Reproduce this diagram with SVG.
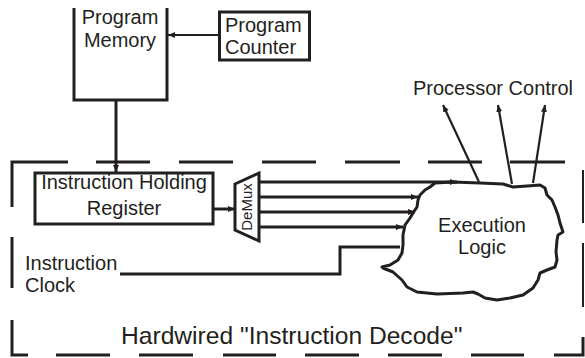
<svg xmlns="http://www.w3.org/2000/svg" width="585" height="358" viewBox="0 0 585 358">
<style>
  text { font-family: "Liberation Sans", Arial, sans-serif; font-size: 20px; fill: #231f20; }
  .box { fill: #fff; stroke: #231f20; stroke-width: 3; }
  .open { fill: none; stroke: #231f20; stroke-width: 3; }
  .wire { fill: none; stroke: #231f20; stroke-width: 3; }
  .thin { fill: none; stroke: #231f20; stroke-width: 2.2; }
  .dash { fill: none; stroke: #231f20; stroke-width: 3; }
  .dashr { fill: none; stroke: #231f20; stroke-width: 2; }
  .cloud { fill: #fff; stroke: #231f20; stroke-width: 3; stroke-linejoin: round; }
</style>
<defs>
  <marker id="ah" markerUnits="userSpaceOnUse" markerWidth="8" markerHeight="8" viewBox="0 0 8 8" refX="7" refY="4" orient="auto">
    <path d="M0,1 L7,4 L0,7 Z" fill="#231f20"/>
  </marker>
</defs>
<rect width="585" height="358" fill="#fff"/>

<g id="boundary">
  <path class="dash" d="M12,207 V162 H68 M96,162 H150 M179,162 H233 M262,162 H316 M345,162 H400 M428,162 H482 M510,162 H565"/>
  <path class="dash" d="M12,237 V288 M12,320 V355 H28 M56,355 H110 M139,355 H193 M223,355 H276 M305,355 H359 M388,355 H442 M471,355 H524 M554,355 H583 V337"/>
  <path class="dashr" d="M583,170 V223 M583,243 V307"/>
  <text x="121" y="344" style="font-size:24.6px">Hardwired "Instruction Decode"</text>
</g>

<g id="program-memory">
  <path class="open" d="M74,8 V100 H167 V8"/>
  <text x="120" y="24" text-anchor="middle">Program</text>
  <text x="120" y="47" text-anchor="middle">Memory</text>
</g>

<g id="program-counter">
  <rect class="box" x="219.5" y="12" width="90" height="48"/>
  <text x="225" y="32">Program</text>
  <text x="225" y="54">Counter</text>
</g>

<g id="instruction-holding-register">
  <rect class="box" x="35" y="173" width="178" height="51"/>
  <text x="124" y="189" text-anchor="middle">Instruction Holding</text>
  <text x="124" y="215" text-anchor="middle">Register</text>
</g>

<g id="demux">
  <path class="box" d="M235,184 L259,173 L259,241 L235,230 Z"/>
  <text transform="translate(247,207) rotate(-90)" x="0" y="5" text-anchor="middle" style="font-size:15px">DeMux</text>
</g>

<g id="execution-logic">
  <path class="cloud" d="M430,187 L435,183 L453,182 L480,183 L503,184 L513,187 L527,186 L540,185 L545,188 L547,195 L552,200 L555,207 L558,215 L560,223 L563,232 L558,235 L557,240 L556,252 L557,260 L555,267 L547,270 L540,273 L538,280 L533,288 L523,295 L510,298 L497,300 L485,298 L478,294 L473,292 L463,293 L437,294 L417,292 L407,287 L402,280 L393,272 L383,268 L382,267 L390,265 L398,260 L402,253 L403,245 L403,235 L405,225 L410,218 L413,213 L417,207 L418,200 L420,195 L425,190 Z"/>
  <text x="482" y="232" text-anchor="middle">Execution</text>
  <text x="482" y="254" text-anchor="middle">Logic</text>
</g>

<g id="instruction-clock">
  <text x="25" y="270">Instruction</text>
  <text x="25" y="292">Clock</text>
</g>

<g id="processor-control">
  <text x="413" y="95">Processor Control</text>
</g>

<g id="connectors">
  <path class="thin" d="M219,35 H168" marker-end="url(#ah)"/>
  <path class="wire" d="M116,101 V172" marker-end="url(#ah)"/>
  <path class="wire" d="M213,209 H235" marker-end="url(#ah)"/>
  <path class="wire" d="M259,182 H457" marker-end="url(#ah)"/>
  <path class="wire" d="M259,197 H418" marker-end="url(#ah)"/>
  <path class="wire" d="M259,212 H415" marker-end="url(#ah)"/>
  <path class="wire" d="M259,227 H403" marker-end="url(#ah)"/>
  <path class="wire" d="M120,274 H340 V247 H400"/>
  <path class="thin" d="M479,182 L443,105" marker-end="url(#ah)"/>
  <path class="thin" d="M512,184 L498,105" marker-end="url(#ah)"/>
  <path class="thin" d="M533,183 L545,105" marker-end="url(#ah)"/>
</g>
</svg>
